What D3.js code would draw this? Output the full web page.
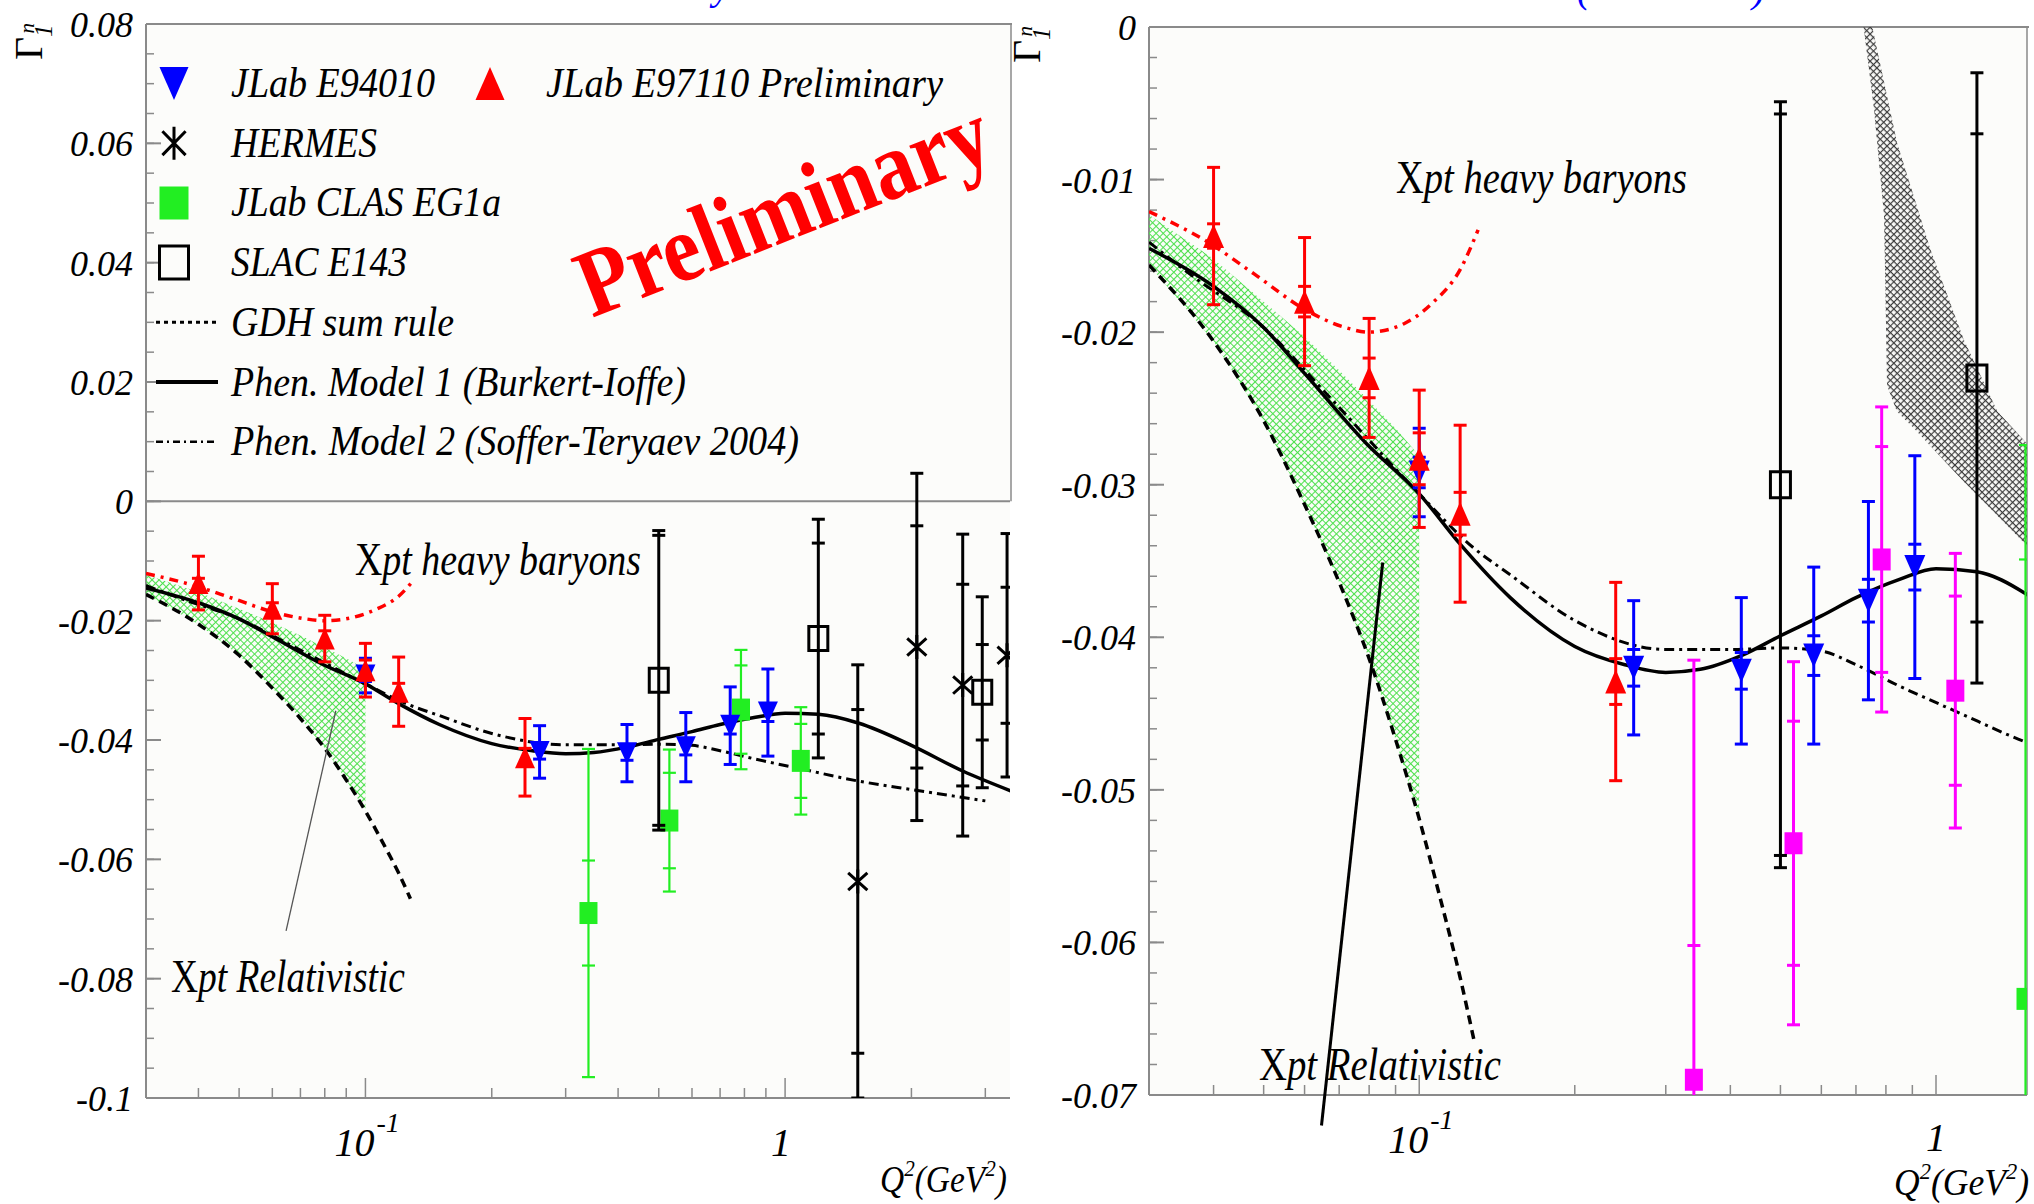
<!DOCTYPE html>
<html>
<head>
<meta charset="utf-8">
<script src="https://cdn.jsdelivr.net/npm/d3@7"></script>
<style>
  html, body { margin: 0; padding: 0; background: #ffffff; }
  svg { display: block; }
  text { font-family: "Liberation Serif", "Times New Roman", serif; }
</style>
</head>
<body>
<script>
// ---------------- measurements: Q^2 (GeV^2), Gamma_1^n, total and stat errors ----------------
const e94010Q    = [0.10, 0.26, 0.42, 0.58, 0.74, 0.91];
const e94010Val  = [-0.0292, -0.0420, -0.0422, -0.0412, -0.0376, -0.0354];
const e94010Tot  = [0.0029, 0.0044, 0.0048, 0.0058, 0.0065, 0.0073];
const e94010Stat = [0.0010, 0.0012, 0.0012, 0.0013, 0.0014, 0.0015];

const e97110Q    = [0.04, 0.06, 0.08, 0.10, 0.12, 0.24];
const e97110Val  = [-0.0137, -0.0180, -0.0230, -0.0283, -0.0319, -0.0429];
const e97110Tot  = [0.0045, 0.0042, 0.0039, 0.0045, 0.0058, 0.0065];
const e97110Stat = [0.0008, 0.0010, 0.0013, 0.0017, 0.0014, 0.0015];

const eg1aQ    = [0.34, 0.53, 0.785, 1.09];
const eg1aVal  = [-0.0690, -0.0535, -0.0349, -0.0435];
const eg1aTot  = [0.0275, 0.0119, 0.0100, 0.0090];
const eg1aStat = [0.0088, 0.0080, 0.0074, 0.0062];

const hermesQ    = [1.49, 2.06, 2.65, 3.38];
const hermesVal  = [-0.0637, -0.0244, -0.0308, -0.0258];
const hermesTot  = [0.0363, 0.0291, 0.0253, 0.0204];
const hermesStat = [0.0288, 0.0203, 0.0169, 0.0114];

const e143Q    = [0.50, 1.20, 2.95];
const e143Val  = [-0.0300, -0.0230, -0.0320];
const e143Tot  = [0.0251, 0.0200, 0.0160];
const e143Stat = [0.0243, 0.0160, 0.0080];

// ---------------- model curves ----------------
const model1Q   = [0.03, 0.04, 0.05, 0.06, 0.079, 0.10, 0.12, 0.15, 0.20, 0.25, 0.30, 0.35, 0.42, 0.50, 0.60, 0.70, 0.85, 1.00, 1.20, 1.50, 2.00, 2.65, 3.50];
const model1Val = [-0.0145, -0.0170, -0.0197, -0.0227, -0.0273, -0.0306, -0.0339, -0.0374, -0.0406, -0.0418, -0.0423, -0.0421, -0.0412, -0.0399, -0.0386, -0.0374, -0.0362, -0.0355, -0.0357, -0.0372, -0.0409, -0.0452, -0.0487];

const model2Q   = [0.03, 0.036, 0.05, 0.066, 0.10, 0.127, 0.15, 0.20, 0.30, 0.40, 0.50, 0.60, 0.70, 0.85, 1.10, 1.50, 2.00, 3.00];
const model2Val = [-0.0141, -0.0162, -0.0197, -0.0240, -0.0306, -0.0341, -0.0359, -0.0389, -0.0408, -0.0408, -0.0407, -0.0409, -0.0418, -0.0432, -0.0449, -0.0469, -0.0483, -0.0502];

const gdhQ   = [0.03, 0.04, 0.05, 0.06, 0.07, 0.08, 0.09, 0.10, 0.11, 0.12, 0.128];
const gdhVal = [-0.0156, -0.0206, -0.0258, -0.0313, -0.0364, -0.0414, -0.0467, -0.0519, -0.0572, -0.0623, -0.0666];

const relQ     = [0.03, 0.04, 0.05, 0.06, 0.07, 0.08, 0.09, 0.10];
const relUpper = [-0.0123, -0.0152, -0.0180, -0.0203, -0.0225, -0.0245, -0.0263, -0.0281];
const relLower = [-0.0156, -0.0206, -0.0258, -0.0313, -0.0364, -0.0414, -0.0467, -0.0519];

const hbQ   = [0.03, 0.039, 0.048, 0.06, 0.072, 0.08, 0.094, 0.106, 0.12, 0.13];
const hbVal = [-0.0121, -0.0141, -0.0162, -0.0185, -0.0197, -0.0200, -0.0194, -0.0181, -0.0159, -0.0133];

const bandUpperQ   = [0.742, 0.841, 0.976, 1.132, 1.315, 1.50];
const bandUpperVal = [0.0010, -0.0076, -0.0146, -0.0205, -0.0252, -0.0273];
const bandLowerQ   = [0.718, 0.758, 0.793, 0.798, 0.804, 0.84, 0.906, 1.132, 1.50];
const bandLowerVal = [0.0010, -0.0053, -0.0123, -0.0170, -0.0235, -0.0252, -0.0263, -0.0298, -0.0340];

const pointerQ   = [0.085, 0.0647];
const pointerVal = [-0.0351, -0.0720];

// ---------------- axes ----------------
const leftYTicks       = [0.08, 0.06, 0.04, 0.02, 0, -0.02, -0.04, -0.06, -0.08, -0.1];
const leftYTickLabels  = ["0.08", "0.06", "0.04", "0.02", "0", "-0.02", "-0.04", "-0.06", "-0.08", "-0.1"];
const rightYTicks      = [0, -0.01, -0.02, -0.03, -0.04, -0.05, -0.06, -0.07];
const rightYTickLabels = ["0", "-0.01", "-0.02", "-0.03", "-0.04", "-0.05", "-0.06", "-0.07"];
const xMajorTicks = [0.1, 1];
const xMajorBase  = ["10", "1"];
const xMajorExp   = ["-1", ""];
const xMinorTicks = [0.04, 0.05, 0.06, 0.07, 0.08, 0.09, 0.2, 0.3, 0.4, 0.5, 0.6, 0.7, 0.8, 0.9, 2, 3];

const legendLabels = ["JLab E94010", "JLab E97110 Preliminary", "HERMES", "JLab CLAS EG1a", "SLAC E143",
                      "GDH sum rule", "Phen. Model 1 (Burkert-Ioffe)", "Phen. Model 2 (Soffer-Teryaev 2004)"];

// ---------------- drawing ----------------
const W = 2034, H = 1204;
const RED = "#ff0000", BLUE = "#0000ff", GREEN = "#22ee22", MAGENTA = "#ff00ff", BLACK = "#000000";
const AXIS = "#8a8a8a";

const svg = d3.select("body").append("svg").attr("width", W).attr("height", H);
svg.append("rect").attr("width", W).attr("height", H).attr("fill", "#ffffff");
const defs = svg.append("defs");

function hatch(id, color, sw, gap) {
  const p = defs.append("pattern").attr("id", id)
    .attr("patternUnits", "userSpaceOnUse").attr("width", gap).attr("height", gap)
    .attr("patternTransform", "rotate(45)");
  p.append("path").attr("d", `M0,${gap / 2}H${gap}M${gap / 2},0V${gap}`)
    .attr("stroke", color).attr("stroke-width", sw).attr("fill", "none");
}
hatch("greenHatch", "#4ee04e", 1.1, 5);
hatch("grayHatch", "#3c3c3c", 1.2, 4.8);

const zip = (q, v) => q.map((d, i) => [d, v[i]]);

function markerPath(kind, w, h) {
  const a = w / 2, b = h / 2;
  if (kind === "triUp") return `M0,${-b}L${a},${b}L${-a},${b}Z`;
  if (kind === "triDown") return `M0,${b}L${a},${-b}L${-a},${-b}Z`;
  if (kind === "square" || kind === "open") return `M${-a},${-b}H${a}V${b}H${-a}Z`;
  if (kind === "star") return `M0,${-b}V${b}M${-a * 0.8},${-b * 0.72}L${a * 0.8},${b * 0.72}M${-a * 0.8},${b * 0.72}L${a * 0.8},${-b * 0.72}`;
  return "";
}
function styleMarker(sel, kind, color) {
  if (kind === "open") sel.attr("fill", "none").attr("stroke", color).attr("stroke-width", 3);
  else if (kind === "star") sel.attr("fill", "none").attr("stroke", color).attr("stroke-width", 3);
  else sel.attr("fill", color).attr("stroke", "none");
}

function drawSeries(g, xs, ys, s) {
  const rows = s.q.map((q, i) => ({ q, v: s.val[i], tot: s.tot[i], stat: s.stat[i] }));
  const pts = g.append("g").selectAll("g").data(rows).join("g")
    .attr("transform", d => `translate(${xs(d.q)},0)`);
  pts.append("line").attr("x1", 0).attr("x2", 0)
    .attr("y1", d => ys(d.v + d.tot)).attr("y2", d => ys(d.v - d.tot))
    .attr("stroke", s.color).attr("stroke-width", s.lw);
  const cap = 6.5;
  ["tot", "stat"].forEach(k => [1, -1].forEach(sign => {
    pts.append("line").attr("x1", -cap).attr("x2", cap)
      .attr("y1", d => ys(d.v + sign * d[k])).attr("y2", d => ys(d.v + sign * d[k]))
      .attr("stroke", s.color).attr("stroke-width", s.lw);
  }));
  const m = pts.append("path")
    .attr("transform", d => `translate(0,${ys(d.v)})`)
    .attr("d", markerPath(s.marker, s.mw, s.mh));
  styleMarker(m, s.marker, s.color);
}

function lineGen(xs, ys) {
  return d3.line().x(d => xs(d[0])).y(d => ys(d[1])).curve(d3.curveMonotoneX);
}

function drawPanel(cfg) {
  const xs = d3.scaleLog().domain(cfg.qDomain).range([cfg.x0, cfg.x1]);
  const ys = d3.scaleLinear().domain(cfg.vDomain).range([cfg.y1, cfg.y0]);
  const g = svg.append("g");

  // plot area
  g.append("rect").attr("x", cfg.x0).attr("y", cfg.y0)
    .attr("width", cfg.x1 - cfg.x0).attr("height", cfg.y1 - cfg.y0).attr("fill", "#fcfcfa");

  const clipId = cfg.id + "Clip";
  defs.append("clipPath").attr("id", clipId).append("rect")
    .attr("x", cfg.x0).attr("y", cfg.y0).attr("width", cfg.x1 - cfg.x0).attr("height", cfg.y1 - cfg.y0);

  // frame and axes
  const frame = g.append("g").attr("stroke", AXIS).attr("stroke-width", 2);
  frame.append("line").attr("x1", cfg.x0).attr("x2", cfg.x1 + 2).attr("y1", cfg.y0).attr("y2", cfg.y0);
  frame.append("line").attr("x1", cfg.x0).attr("x2", cfg.x0).attr("y1", cfg.y0).attr("y2", cfg.y1);
  frame.append("line").attr("x1", cfg.x0).attr("x2", cfg.x1).attr("y1", cfg.y1).attr("y2", cfg.y1);
  if (cfg.zeroLine) frame.append("line").attr("x1", cfg.x0).attr("x2", cfg.x1).attr("y1", ys(0)).attr("y2", ys(0));
  if (cfg.rightFrame) frame.append("line").attr("x1", cfg.rightFrame[0]).attr("x2", cfg.rightFrame[0])
    .attr("y1", ys(cfg.rightFrame[1])).attr("y2", ys(cfg.rightFrame[2])).attr("stroke-width", 1.5);

  // y ticks
  const minorY = d3.range(cfg.vDomain[0], cfg.vDomain[1] + 1e-9, cfg.yMinorStep);
  frame.selectAll(null).data(minorY).join("line")
    .attr("x1", cfg.x0).attr("x2", cfg.x0 + 8).attr("y1", d => ys(d)).attr("y2", d => ys(d)).attr("stroke-width", 1.5);
  frame.selectAll(null).data(cfg.yTicks).join("line")
    .attr("x1", cfg.x0).attr("x2", cfg.x0 + 15).attr("y1", d => ys(d)).attr("y2", d => ys(d));
  g.selectAll(null).data(cfg.yTicks).join("text")
    .attr("x", cfg.x0 - 13).attr("y", d => ys(d)).attr("dy", "0.36em")
    .attr("text-anchor", "end").attr("font-size", 36).attr("font-style", "italic")
    .text((d, i) => cfg.yTickLabels[i]);

  // x ticks
  frame.selectAll(null).data(xMinorTicks.filter(d => d < cfg.qDomain[1])).join("line")
    .attr("x1", d => xs(d)).attr("x2", d => xs(d)).attr("y1", cfg.y1).attr("y2", cfg.y1 - 10).attr("stroke-width", 1.5);
  frame.selectAll(null).data(xMajorTicks).join("line")
    .attr("x1", d => xs(d)).attr("x2", d => xs(d)).attr("y1", cfg.y1).attr("y2", cfg.y1 - 20).attr("stroke-width", 1.5);

  xMajorTicks.forEach((t, i) => {
    const tx = g.append("text").attr("font-size", 40).attr("font-style", "italic");
    if (xMajorExp[i]) {
      tx.attr("x", xs(t) - 31).attr("y", cfg.y1 + 58);
      tx.append("tspan").text(xMajorBase[i]);
      tx.append("tspan").attr("font-size", 28).attr("dy", -24).attr("dx", 2).text(xMajorExp[i]);
    } else {
      tx.attr("x", xs(t) + cfg.oneDx).attr("y", cfg.y1 + cfg.oneDy).attr("text-anchor", "middle").text(xMajorBase[i]);
    }
  });

  // x axis title
  const xt = g.append("text").attr("x", cfg.xTitle[0]).attr("y", cfg.xTitle[1])
    .attr("font-size", 38).attr("font-style", "italic")
    .attr("textLength", cfg.xTitle[2]).attr("lengthAdjust", "spacingAndGlyphs");
  xt.append("tspan").text("Q");
  xt.append("tspan").attr("font-size", 24).attr("dy", -16).text("2");
  xt.append("tspan").attr("dy", 16).text("(GeV");
  xt.append("tspan").attr("font-size", 24).attr("dy", -16).text("2");
  xt.append("tspan").attr("dy", 16).text(")");

  // y axis title: Gamma_1^n
  const yt = g.append("text").attr("transform", `translate(${cfg.yTitle[0]},${cfg.yTitle[1]}) rotate(-90)`)
    .attr("font-size", 40);
  yt.append("tspan").text("\u0393");
  yt.append("tspan").attr("font-size", 25).attr("font-style", "italic").attr("dy", 10).text("1");
  yt.append("tspan").attr("font-size", 21).attr("font-style", "italic").attr("dx", -9).attr("dy", -18).text("n");

  // clipped content
  const c = g.append("g").attr("clip-path", `url(#${clipId})`);

  if (cfg.grayBand) {
    const pts = zip(bandUpperQ, bandUpperVal).concat(zip(bandLowerQ, bandLowerVal).reverse());
    c.append("path").attr("d", d3.line().x(d => xs(d[0])).y(d => ys(d[1]))(pts) + "Z")
      .attr("fill", "url(#grayHatch)").attr("stroke", "none");
  }

  // chiral perturbation band
  c.append("path").datum(relQ.map((q, i) => [q, relLower[i], relUpper[i]]))
    .attr("d", d3.area().x(d => xs(d[0])).y0(d => ys(d[1])).y1(d => ys(d[2])))
    .attr("fill", "url(#greenHatch)");

  const lg = lineGen(xs, ys);
  c.append("path").attr("d", lg(zip(hbQ, hbVal))).attr("fill", "none")
    .attr("stroke", RED).attr("stroke-width", 3.5).attr("stroke-dasharray", "9,6,3,6");
  c.append("path").attr("d", lg(zip(gdhQ, gdhVal))).attr("fill", "none")
    .attr("stroke", BLACK).attr("stroke-width", 3.5).attr("stroke-dasharray", "9,6");
  c.append("path").attr("d", lg(zip(model2Q, model2Val))).attr("fill", "none")
    .attr("stroke", BLACK).attr("stroke-width", 3).attr("stroke-dasharray", "10,5,3,5");
  c.append("path").attr("d", lg(zip(model1Q, model1Val))).attr("fill", "none")
    .attr("stroke", BLACK).attr("stroke-width", 3.5);

  cfg.series.forEach(s => drawSeries(c, xs, ys, s));

  // annotations
  g.append("path").attr("d", d3.line().x(d => xs(d[0])).y(d => ys(d[1]))(zip(pointerQ, pointerVal)))
    .attr("stroke", cfg.pointerColor).attr("stroke-width", cfg.pointerWidth).attr("fill", "none");

  cfg.labels.forEach(L => {
    const t = g.append("text").attr("x", L.x).attr("y", L.y).attr("font-size", 46)
      .attr("textLength", L.w).attr("lengthAdjust", "spacingAndGlyphs");
    t.append("tspan").text("X");
    t.append("tspan").attr("font-style", "italic").text(L.text);
  });

  return { xs, ys, g };
}

// ---- left panel: wide Q^2 range ----
drawPanel({
  id: "left", x0: 146, x1: 1010, y0: 24, y1: 1098,
  qDomain: [0.03, 3.435], vDomain: [-0.1, 0.08],
  yTicks: leftYTicks, yTickLabels: leftYTickLabels, yMinorStep: 0.005,
  zeroLine: true, rightFrame: [1011, 0.08, 0.0],
  oneDx: -4, oneDy: 58,
  xTitle: [880, 1192, 127], yTitle: [42, 60],
  grayBand: false,
  pointerColor: "#555555", pointerWidth: 1.3,
  labels: [
    { text: "pt heavy baryons", x: 355, y: 575, w: 286 },
    { text: "pt Relativistic", x: 171, y: 992, w: 234 }
  ],
  series: [
    { q: eg1aQ, val: eg1aVal, tot: eg1aTot, stat: eg1aStat, color: GREEN, lw: 2.2, marker: "square", mw: 18, mh: 22 },
    { q: e143Q, val: e143Val, tot: e143Tot, stat: e143Stat, color: BLACK, lw: 3, marker: "open", mw: 19, mh: 24 },
    { q: hermesQ, val: hermesVal, tot: hermesTot, stat: hermesStat, color: BLACK, lw: 3, marker: "star", mw: 24, mh: 24 },
    { q: e94010Q, val: e94010Val, tot: e94010Tot, stat: e94010Stat, color: BLUE, lw: 3, marker: "triDown", mw: 20, mh: 22 },
    { q: e97110Q, val: e97110Val, tot: e97110Tot, stat: e97110Stat, color: RED, lw: 3, marker: "triUp", mw: 20, mh: 22 }
  ]
});

// ---- right panel: low Q^2 zoom ----
drawPanel({
  id: "right", x0: 1149, x1: 2027, y0: 27, y1: 1095,
  qDomain: [0.03, 1.5], vDomain: [-0.07, 0],
  yTicks: rightYTicks, yTickLabels: rightYTickLabels, yMinorStep: 0.002,
  zeroLine: false, rightFrame: [2027, 0, -0.07],
  oneDx: 0, oneDy: 56,
  xTitle: [1894, 1195, 135], yTitle: [1040, 63],
  grayBand: true,
  pointerColor: BLACK, pointerWidth: 3,
  labels: [
    { text: "pt heavy baryons", x: 1396, y: 193, w: 291 },
    { text: "pt Relativistic", x: 1259, y: 1080, w: 242 }
  ],
  series: [
    { q: eg1aQ, val: eg1aVal, tot: eg1aTot, stat: eg1aStat, color: MAGENTA, lw: 3, marker: "square", mw: 18, mh: 22 },
    { q: hermesQ, val: hermesVal, tot: hermesTot, stat: hermesStat, color: GREEN, lw: 2.2, marker: "square", mw: 18, mh: 22 },
    { q: e143Q, val: e143Val, tot: e143Tot, stat: e143Stat, color: BLACK, lw: 3, marker: "open", mw: 20, mh: 26 },
    { q: e94010Q, val: e94010Val, tot: e94010Tot, stat: e94010Stat, color: BLUE, lw: 3, marker: "triDown", mw: 21, mh: 24 },
    { q: e97110Q, val: e97110Val, tot: e97110Tot, stat: e97110Stat, color: RED, lw: 3, marker: "triUp", mw: 21, mh: 24 }
  ]
});

// ---- legend (left panel) ----
const legend = svg.append("g");
const rowY = i => 83.5 + i * 59.7;
const legendEntries = [
  { kind: "triDown", color: BLUE,  mx: 174, tx: 231, row: 0, w: 204 },
  { kind: "triUp",   color: RED,   mx: 490, tx: 546, row: 0, w: 397 },
  { kind: "star",    color: BLACK, mx: 174, tx: 231, row: 1, w: 146 },
  { kind: "square",  color: GREEN, mx: 174, tx: 231, row: 2, w: 270 },
  { kind: "open",    color: BLACK, mx: 174, tx: 231, row: 3, w: 176 },
  { kind: "dots",    color: BLACK, mx: 174, tx: 231, row: 4, w: 223 },
  { kind: "solid",   color: BLACK, mx: 174, tx: 231, row: 5, w: 455 },
  { kind: "dashdot", color: BLACK, mx: 174, tx: 231, row: 6, w: 568 }
];
legendEntries.forEach((e, i) => {
  const y = rowY(e.row);
  if (["dots", "solid", "dashdot"].includes(e.kind)) {
    const ln = legend.append("line").attr("x1", 156).attr("x2", 218).attr("y1", y).attr("y2", y)
      .attr("stroke", e.color);
    if (e.kind === "dots") ln.attr("stroke-width", 3).attr("stroke-dasharray", "4,4");
    if (e.kind === "solid") ln.attr("stroke-width", 4);
    if (e.kind === "dashdot") ln.attr("stroke-width", 2.5).attr("stroke-dasharray", "7,4,2,4");
  } else {
    const m = legend.append("path").attr("transform", `translate(${e.mx},${y})`)
      .attr("d", markerPath(e.kind, 29, 33));
    styleMarker(m, e.kind, e.color);
  }
  legend.append("text").attr("x", e.tx).attr("y", y + 13.5).attr("font-size", 43).attr("font-style", "italic")
    .attr("textLength", e.w).attr("lengthAdjust", "spacingAndGlyphs").text(legendLabels[i]);
});

// ---- watermark ----
svg.append("text").attr("transform", "translate(592,318) rotate(-21.5)")
  .attr("font-size", 96).attr("font-weight", "bold").attr("fill", RED)
  .attr("textLength", 436).attr("lengthAdjust", "spacingAndGlyphs").text("Preliminary");

// ---- heading, running above the top edge ----
const head = svg.append("g").attr("fill", BLUE).attr("font-size", 40).attr("font-style", "italic");
head.append("text").attr("x", 713).attr("y", -1).text("y");
head.append("text").attr("x", 1577).attr("y", 2).text("(");
head.append("text").attr("x", 1752).attr("y", 2).text(")");
</script>
</body>
</html>
